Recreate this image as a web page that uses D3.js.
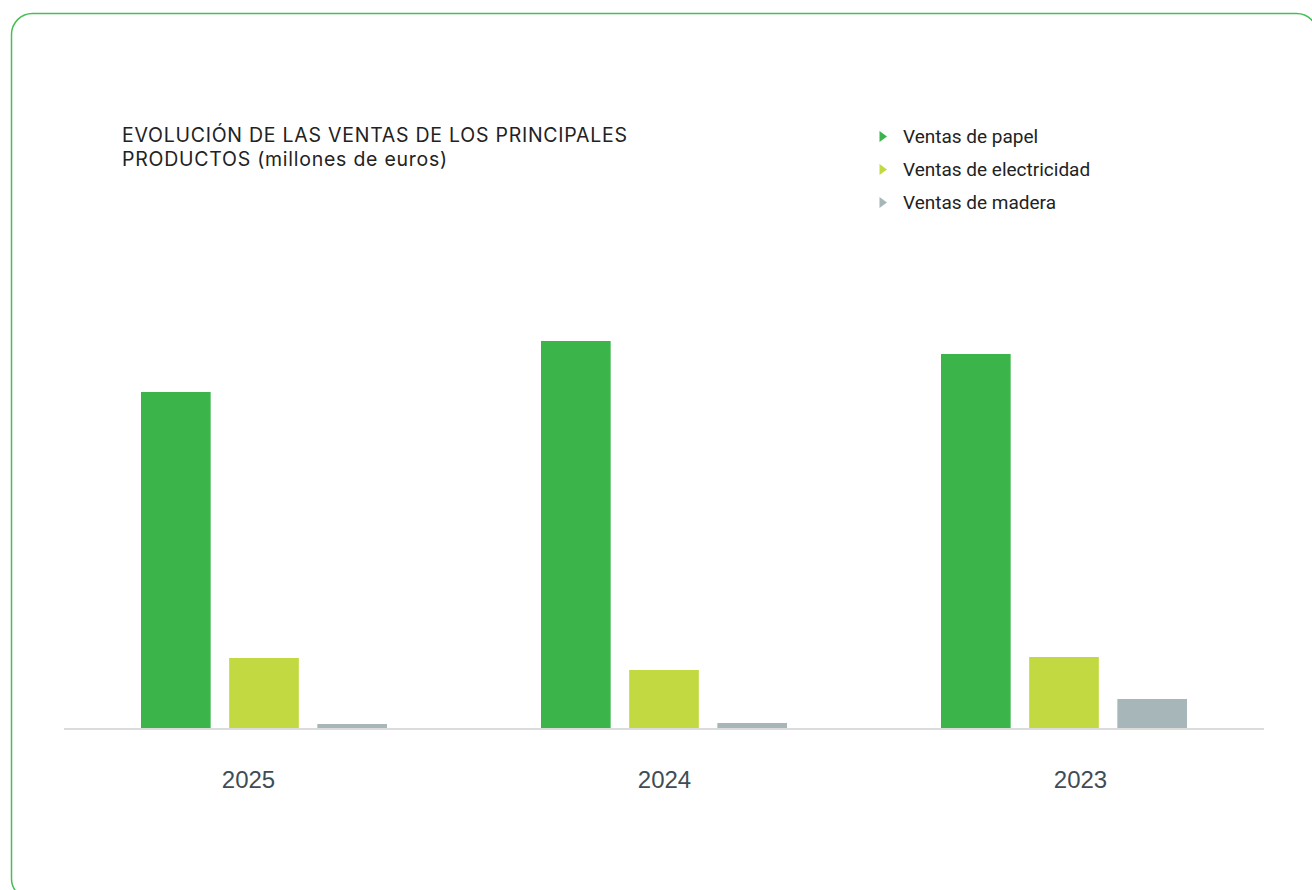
<!DOCTYPE html>
<html>
<head>
<meta charset="utf-8">
<script src="https://cdn.jsdelivr.net/npm/d3@7"></script>
<style>
  html, body { margin: 0; padding: 0; background: #fff; }
  svg { display: block; }
</style>
</head>
<body>
<svg id="chart" width="1312" height="890"></svg>
<script>
// ---- data ----
const years = ["2025", "2024", "2023"];
const seriesNames = ["Ventas de papel", "Ventas de electricidad", "Ventas de madera"];
const ventasPapel = [336, 387, 374];
const ventasElectricidad = [70, 58, 71];
const ventasMadera = [4, 5, 29];
const seriesColors = ["#3bb54a", "#c2d941", "#a6b6b9"];
const titleLines = ["EVOLUCIÓN DE LAS VENTAS DE LOS PRINCIPALES", "PRODUCTOS (millones de euros)"];

const seriesValues = [ventasPapel, ventasElectricidad, ventasMadera];
const rows = years.map((y, i) => ({
  year: y,
  values: seriesNames.map((s, j) => ({ key: s, value: seriesValues[j][i], color: seriesColors[j] }))
}));

const svg = d3.select("#chart");

// frame
svg.append("rect")
  .attr("x", 11.5).attr("y", 13.5)
  .attr("width", 1306).attr("height", 886)
  .attr("rx", 21).attr("ry", 21)
  .attr("fill", "none")
  .attr("stroke", "#45bf55")
  .attr("stroke-width", 1.5);

// scales
const x0 = d3.scaleBand().domain(years).range([64, 1264]).paddingInner(0).paddingOuter(0);
const x1 = d3.scaleBand().domain(seriesNames).range([77, 323]).paddingInner(0.21).paddingOuter(0);
const y = d3.scaleLinear().domain([0, 400]).range([728, 328]);
const xLabel = d3.scalePoint().domain(years).range([248, 1080]);

// bars
const groups = svg.append("g").selectAll("g.year").data(rows).join("g")
  .attr("class", "year")
  .attr("transform", d => `translate(${x0(d.year)},0)`);
groups.selectAll("rect").data(d => d.values).join("rect")
  .attr("x", d => x1(d.key))
  .attr("y", d => y(d.value))
  .attr("width", x1.bandwidth())
  .attr("height", d => y(0) - y(d.value))
  .attr("fill", d => d.color);

// baseline
svg.append("line")
  .attr("x1", 64).attr("x2", 1264)
  .attr("y1", y(0) + 1).attr("y2", y(0) + 1)
  .attr("stroke", "#dcdcdc")
  .attr("stroke-width", 2);

// x labels
const xAxis = d3.axisBottom(xLabel).tickSize(0).tickPadding(0);
const ax = svg.append("g").attr("transform", `translate(0, ${y(0)})`).call(xAxis);
ax.select(".domain").remove();
ax.selectAll("text")
  .attr("dy", null)
  .attr("y", 60)
  .attr("font-family", "Liberation Sans, Arial, sans-serif")
  .attr("font-size", 24)
  .attr("fill", "#3d4d58");

// title
const title = svg.append("text")
  .attr("x", 122).attr("y", 142)
  .attr("font-family", "Inter, sans-serif")
  .attr("font-size", 19.5)
  .attr("letter-spacing", 0.75)
  .attr("fill", "#222");
titleLines.forEach((t, i) => {
  title.append("tspan").attr("x", 122).attr("y", 142 + i * 24).text(t);
});

// legend
const legend = svg.append("g");
seriesNames.forEach((s, i) => {
  const cy = 143 + i * 33;
  legend.append("path")
    .attr("d", `M879.5,${cy - 12} L887,${cy - 6.5} L879.5,${cy - 1} Z`)
    .attr("fill", seriesColors[i]);
  legend.append("text")
    .attr("x", 903).attr("y", cy)
    .attr("font-family", "Roboto, sans-serif")
    .attr("font-size", 19)
    .attr("fill", "#222")
    .text(s);
});
</script>
</body>
</html>
